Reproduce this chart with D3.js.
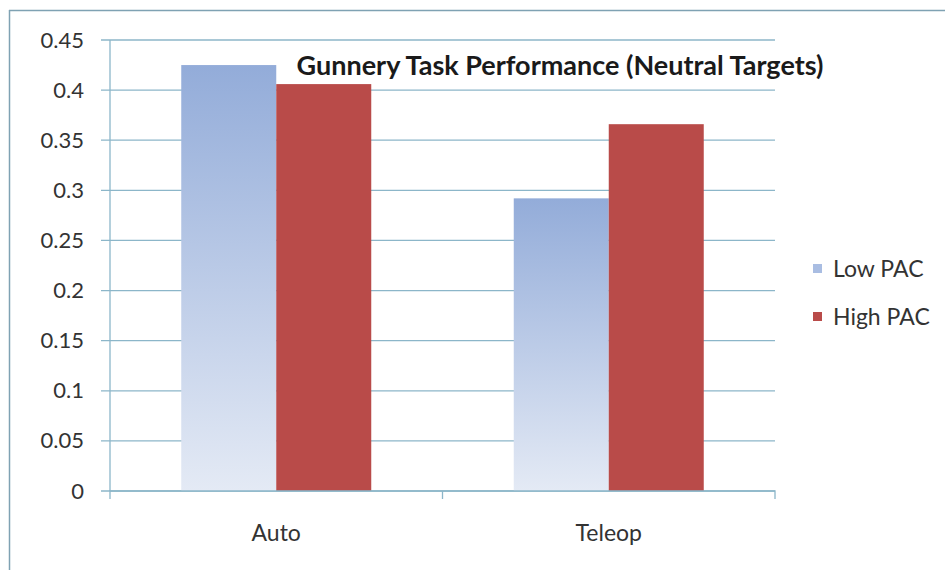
<!DOCTYPE html>
<html lang="en">
<head>
<meta charset="UTF-8">
<title>Gunnery Task Performance</title>
<style>
body { margin: 0; background: #fff; }
.tick text { font: 22px Lato, "Open Sans", sans-serif; fill: #333; }
.grid line { stroke: #8cb6c9; stroke-width: 1.3px; }
</style>
</head>
<body>
<script src="https://d3js.org/d3.v7.min.js"></script>
<script>
// data
var categories = ["Auto", "Teleop"];
var seriesNames = ["Low PAC", "High PAC"];
var lowPAC = [0.425, 0.292];
var highPAC = [0.406, 0.366];
var yTicks = [0, 0.05, 0.1, 0.15, 0.2, 0.25, 0.3, 0.35, 0.4, 0.45];

var width = 945, height = 570;
var margin = {top: 40, right: 170, bottom: 79, left: 110};
var innerW = width - margin.left - margin.right,
    innerH = height - margin.top - margin.bottom;

var svg = d3.select("body").append("svg")
    .attr("width", width)
    .attr("height", height);

// gradient for the light blue bars
var defs = svg.append("defs");
var grad = defs.append("linearGradient")
    .attr("id", "lowGrad")
    .attr("x1", 0).attr("y1", 0).attr("x2", 0).attr("y2", 1);
grad.append("stop").attr("offset", "0%").attr("stop-color", "#93acd9");
grad.append("stop").attr("offset", "100%").attr("stop-color", "#e4eaf5");

// outer frame (top and left edges visible)
svg.append("line").attr("x1", 9).attr("x2", width).attr("y1", 10.5).attr("y2", 10.5)
    .attr("stroke", "#7fa2b3").attr("stroke-width", 1.5);
svg.append("line").attr("x1", 9.5).attr("x2", 9.5).attr("y1", 10).attr("y2", height)
    .attr("stroke", "#7fa2b3").attr("stroke-width", 1.5);

var g = svg.append("g")
    .attr("transform", "translate(" + margin.left + "," + margin.top + ")");

var x0 = d3.scaleBand().domain(categories).range([0, innerW]).paddingInner(0).paddingOuter(0);
var x1 = d3.scaleBand().domain(seriesNames).range([0, x0.bandwidth()]).paddingInner(0).paddingOuter(0.75);
var y = d3.scaleLinear().domain([0, 0.45]).range([innerH, 0]);

var colors = {"Low PAC": "url(#lowGrad)", "High PAC": "#b94b49"};
var legendColors = {"Low PAC": "#a9bde2", "High PAC": "#b94b49"};

// gridlines
g.append("g").attr("class", "grid")
  .selectAll("line")
  .data(yTicks)
  .enter().append("line")
    .attr("x1", -9).attr("x2", innerW)
    .attr("y1", function(d) { return y(d); })
    .attr("y2", function(d) { return y(d); });

// y axis
var yAxis = g.append("g")
    .call(d3.axisLeft(y).tickValues(yTicks).tickSize(9).tickPadding(17)
      .tickFormat(function(d) { return d === 0 ? "0" : String(+d.toFixed(2)); }));
yAxis.select(".domain").attr("stroke", "#8cb6c9").attr("stroke-width", 1.3).attr("d", "M0," + innerH + "V0");
yAxis.selectAll(".tick line").remove();

// bars
var rows = categories.map(function(c, i) {
  return {cat: c, values: [{name: "Low PAC", v: lowPAC[i]}, {name: "High PAC", v: highPAC[i]}]};
});

var groups = g.selectAll(".grp")
  .data(rows)
  .enter().append("g")
    .attr("transform", function(d) { return "translate(" + x0(d.cat) + ",0)"; });

groups.selectAll("rect")
  .data(function(d) { return d.values; })
  .enter().append("rect")
    .attr("x", function(d) { return x1(d.name); })
    .attr("y", function(d) { return y(d.v); })
    .attr("width", x1.bandwidth())
    .attr("height", function(d) { return innerH - y(d.v); })
    .attr("fill", function(d) { return colors[d.name]; });

// x axis
var xAxis = g.append("g")
    .attr("transform", "translate(0," + innerH + ")")
    .call(d3.axisBottom(x0).tickSize(0).tickPadding(34));
xAxis.selectAll(".tick text").style("font-size", "23px");
xAxis.select(".domain").attr("stroke", "#8cb6c9").attr("stroke-width", 1.3)
    .attr("d", "M0,8V0H" + innerW + "V8");
// category separator ticks
xAxis.selectAll(".sep")
  .data(categories.slice(1))
  .enter().append("line")
    .attr("x1", function(d) { return x0(d); })
    .attr("x2", function(d) { return x0(d); })
    .attr("y1", 0).attr("y2", 8)
    .attr("stroke", "#8cb6c9").attr("stroke-width", 1.3);

// title
svg.append("text")
    .attr("x", 560).attr("y", 75)
    .attr("text-anchor", "middle")
    .style("font", "bold 27px Lato, 'Open Sans', sans-serif")
    .attr("fill", "#1a1a1a")
    .text("Gunnery Task Performance (Neutral Targets)");

// legend
var legend = svg.append("g")
  .selectAll("g")
  .data(seriesNames)
  .enter().append("g")
    .attr("transform", function(d, i) { return "translate(813," + (264 + i * 48) + ")"; });
legend.append("rect")
    .attr("width", 9).attr("height", 9)
    .attr("fill", function(d) { return legendColors[d]; });
legend.append("text")
    .attr("x", 20).attr("y", 13)
    .style("font", "23px Lato, 'Open Sans', sans-serif")
    .attr("fill", "#333")
    .text(function(d) { return d; });
</script>
</body>
</html>
